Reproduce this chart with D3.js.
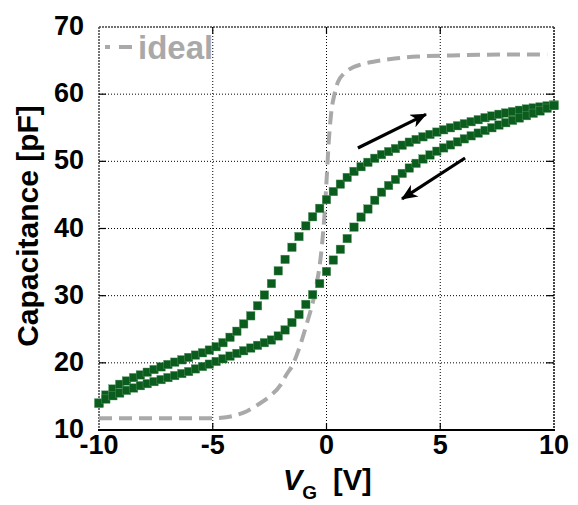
<!DOCTYPE html>
<html><head><meta charset="utf-8">
<script src="https://cdn.jsdelivr.net/npm/d3@7"></script>
<style>
html,body{margin:0;padding:0;background:#fff;}
svg{display:block;font-family:"Liberation Sans",Arial,sans-serif;font-weight:bold;}
</style></head>
<body><svg id="c" width="578" height="505"></svg>
<script>
// ---- data ----
const voltage = [-10.00,-9.70,-9.39,-9.09,-8.79,-8.48,-8.18,-7.88,-7.58,-7.27,-6.97,-6.67,-6.36,-6.06,-5.76,-5.45,-5.15,-4.85,-4.55,-4.24,-3.94,-3.64,-3.33,-3.03,-2.73,-2.42,-2.12,-1.82,-1.52,-1.21,-0.91,-0.61,-0.30,0.00,0.30,0.61,0.91,1.21,1.52,1.82,2.12,2.42,2.73,3.03,3.33,3.64,3.94,4.24,4.55,4.85,5.15,5.45,5.76,6.06,6.36,6.67,6.97,7.27,7.58,7.88,8.18,8.48,8.79,9.09,9.39,9.70,10.00];
const capUpper = [14.0,15.2,16.1,16.8,17.3,17.8,18.2,18.6,19.0,19.4,19.75,20.1,20.45,20.8,21.15,21.5,21.9,22.4,23.0,23.8,24.7,25.8,27.0,28.5,30.1,31.8,33.7,35.4,37.2,38.8,40.4,41.75,43.0,44.3,45.5,46.6,47.6,48.5,49.2,49.85,50.45,51.0,51.45,51.9,52.4,52.85,53.25,53.65,54.0,54.35,54.7,55.0,55.3,55.6,55.9,56.2,56.5,56.75,57.0,57.2,57.4,57.6,57.8,57.95,58.1,58.25,58.4];
const capLower = [14.0,14.6,15.1,15.5,15.9,16.25,16.6,16.9,17.2,17.5,17.8,18.1,18.4,18.7,19.1,19.45,19.8,20.2,20.6,21.0,21.4,21.8,22.2,22.6,23.0,23.4,24.0,24.9,26.0,27.2,28.7,30.15,31.8,33.6,35.3,36.9,38.5,40.2,41.7,42.9,44.2,45.4,46.4,47.3,48.2,49.0,49.7,50.35,50.95,51.5,52.0,52.45,52.9,53.35,53.8,54.2,54.6,55.0,55.4,55.75,56.1,56.45,56.8,57.15,57.5,57.9,58.3];
const idealV = [-10,-5,-4.5,-4,-3.5,-3,-2.5,-2,-1.75,-1.5,-1.25,-1,-0.8,-0.6,-0.45,-0.3,-0.2,-0.1,0,0.1,0.2,0.35,0.5,0.75,1,1.5,2,3,4,6,8,9.7];
const idealC = [11.75,11.75,11.85,12.2,12.8,13.8,15.0,16.8,18.3,19.6,21.7,24.3,26.6,29.0,31.5,34.5,37.5,41.5,47,53,57,60,61.8,63,63.7,64.4,64.8,65.3,65.6,65.8,65.9,65.9];
const xTicks = [-10,-5,0,5,10];
const yTicks = [10,20,30,40,50,60,70];
const legendLabel = "ideal";
const arrowUp = [[1.38,51.98],[4.37,57.0]];
const arrowDown = [[6.09,50.5],[3.32,44.4]];

// ---- chart ----
const svg = d3.select("#c");
const x = d3.scaleLinear().domain([-10,10]).range([99,554]);
const y = d3.scaleLinear().domain([10,70]).range([430,27]);
const green = "#0b5d1e", gray = "#a9a9a9";

svg.append("defs").append("marker")
  .attr("id","ah").attr("viewBox","0 0 14 12").attr("refX",13).attr("refY",6)
  .attr("markerWidth",17).attr("markerHeight",14).attr("markerUnits","userSpaceOnUse")
  .attr("orient","auto")
  .append("path").attr("d","M0,0 L14,6 L0,12 L4,6 Z").attr("fill","#000");

// grid
const g = svg.append("g");
g.selectAll("line.gx").data(xTicks.slice(1,-1)).join("line")
  .attr("x1",d=>x(d)).attr("x2",d=>x(d)).attr("y1",y(70)).attr("y2",y(10))
  .attr("stroke","#000").attr("stroke-width",1).attr("stroke-dasharray","1,2");
g.selectAll("line.gy").data(yTicks.slice(1,-1)).join("line")
  .attr("y1",d=>y(d)).attr("y2",d=>y(d)).attr("x1",x(-10)).attr("x2",x(10))
  .attr("stroke","#000").attr("stroke-width",1).attr("stroke-dasharray","1,2");

// frame
const fr = svg.append("g");
fr.append("line").attr("x1",x(-10)).attr("x2",x(10)).attr("y1",y(70)).attr("y2",y(70))
  .attr("stroke","#444").attr("stroke-width",1.5).attr("stroke-dasharray","2,1");
fr.append("line").attr("x1",x(-10)).attr("x2",x(-10)).attr("y1",y(70)).attr("y2",y(10))
  .attr("stroke","#444").attr("stroke-width",1.5).attr("stroke-dasharray","2,1");
fr.append("line").attr("x1",x(10)).attr("x2",x(10)).attr("y1",y(70)).attr("y2",y(10))
  .attr("stroke","#444").attr("stroke-width",2).attr("stroke-dasharray","2,1");
fr.append("line").attr("x1",x(-10)-1).attr("x2",x(10)+1).attr("y1",y(10)).attr("y2",y(10))
  .attr("stroke","#000").attr("stroke-width",2);
// inward ticks
fr.selectAll("line.tt").data(xTicks.slice(1,-1)).join("line")
  .attr("x1",d=>x(d)).attr("x2",d=>x(d)).attr("y1",y(70)).attr("y2",y(70)+7).attr("stroke","#000").attr("stroke-width",1.2);
fr.selectAll("line.tb").data(xTicks.slice(1,-1)).join("line")
  .attr("x1",d=>x(d)).attr("x2",d=>x(d)).attr("y1",y(10)).attr("y2",y(10)-7).attr("stroke","#000").attr("stroke-width",1.2);
fr.selectAll("line.tr").data(yTicks.slice(1,-1)).join("line")
  .attr("y1",d=>y(d)).attr("y2",d=>y(d)).attr("x1",x(10)).attr("x2",x(10)-8).attr("stroke","#000").attr("stroke-width",1.2);
fr.selectAll("line.tl").data(yTicks.slice(1,-1)).join("line")
  .attr("y1",d=>y(d)).attr("y2",d=>y(d)).attr("x1",x(-10)).attr("x2",x(-10)+7).attr("stroke","#000").attr("stroke-width",1.2);

// ideal curve
const idealData = idealV.map((v,i)=>[v,idealC[i]]);
svg.append("path").datum(idealData)
  .attr("d", d3.line().x(d=>x(d[0])).y(d=>y(d[1])).curve(d3.curveMonotoneX))
  .attr("fill","none").attr("stroke",gray).attr("stroke-width",4).attr("stroke-dasharray","13,7");

// measured squares
const sz = 8.5;
[capUpper, capLower].forEach(arr=>{
  svg.append("g").selectAll("rect").data(voltage.map((v,i)=>[v,arr[i]])).join("rect")
    .attr("x",d=>x(d[0])-sz/2).attr("y",d=>y(d[1])-sz/2)
    .attr("width",sz).attr("height",sz).attr("fill",green)
    .attr("stroke","#5f9a6b").attr("stroke-width",0.4);
});

// arrows
[arrowUp, arrowDown].forEach(a=>{
  svg.append("line").attr("x1",x(a[0][0])).attr("y1",y(a[0][1]))
    .attr("x2",x(a[1][0])).attr("y2",y(a[1][1]))
    .attr("stroke","#000").attr("stroke-width",3.2).attr("marker-end","url(#ah)");
});

// legend
svg.append("line").attr("x1",105).attr("x2",132).attr("y1",47).attr("y2",47)
  .attr("stroke",gray).attr("stroke-width",4).attr("stroke-dasharray","5,9,13,0");
svg.append("text").attr("x",138).attr("y",59).attr("font-size",33).attr("fill",gray).text(legendLabel);

// tick labels
svg.selectAll("text.yl").data(yTicks).join("text")
  .attr("x",84).attr("y",d=>y(d)).attr("dy","0.3em").attr("text-anchor","end")
  .attr("font-size",27).attr("fill","#000").text(d=>d);
svg.selectAll("text.xl").data(xTicks).join("text")
  .attr("x",d=>x(d)).attr("y",454).attr("text-anchor","middle")
  .attr("font-size",27).attr("fill","#000").text(d=>d);

// axis titles
svg.append("text").attr("transform","translate(38,226) rotate(-90)")
  .attr("text-anchor","middle").attr("font-size",30).attr("fill","#000").text("Capacitance [pF]");
const xt = svg.append("text").attr("x",283).attr("y",490).attr("font-size",29).attr("fill","#000");
xt.append("tspan").attr("font-style","italic").text("V");
xt.append("tspan").attr("font-size",19).attr("dy",9).text("G");
svg.append("text").attr("x",333).attr("y",490).attr("font-size",29).attr("fill","#000").text("[V]");
</script></body></html>
